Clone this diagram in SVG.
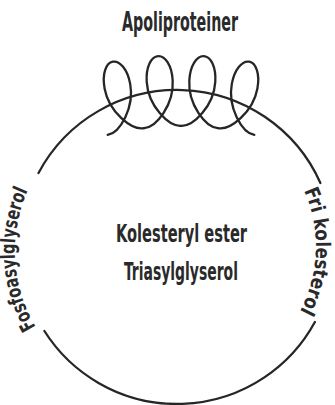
<svg xmlns="http://www.w3.org/2000/svg" xmlns:xlink="http://www.w3.org/1999/xlink" width="335" height="405" viewBox="0 0 335 405">
<style>
.ln{fill:none;stroke:#262626;stroke-width:2.3;stroke-linecap:round;stroke-linejoin:round}
.t{font-family:"Liberation Sans Narrow","DejaVu Sans Condensed","Liberation Sans",sans-serif;font-stretch:condensed;fill:#2a2a2a;font-weight:bold}
</style>
<defs>
<path id="loop" d="M -18.5,0 C -6,0 13,-22 13,-46 C 13,-61 7,-71 0,-71 C -7,-71 -13,-61 -13,-46 C -13,-22 6,0 18.5,0"/>
<path id="pL" d="M 35.7,327.0 A 149 149 0 0 1 29.6,186.5"/>
<path id="pR" d="M 304.0,190.5 A 138 138 0 0 1 297.6,315.5"/>
</defs>
<rect width="335" height="405" fill="#ffffff"/>
<g id="membrane">
<path class="ln" d="M 38.5,173 A 157 157 0 0 1 320.4,183"/>
<path class="ln" d="M 314.9,322 A 157 157 0 0 1 44.4,331"/>
</g>
<g id="apoprotein">
<use xlink:href="#loop" class="ln" transform="rotate(-10.59 181 426.4) translate(181 126.4)"/>
<use xlink:href="#loop" class="ln" transform="rotate(-3.53 181 426.4) translate(181 126.4)"/>
<use xlink:href="#loop" class="ln" transform="rotate(3.53 181 426.4) translate(181 126.4)"/>
<use xlink:href="#loop" class="ln" transform="rotate(10.59 181 426.4) translate(181 126.4)"/>
<text class="t" x="122" y="31" font-size="26" textLength="116" lengthAdjust="spacingAndGlyphs">Apoliproteiner</text>
</g>
<g id="core">
<text class="t" x="116" y="242" font-size="25" textLength="131" lengthAdjust="spacingAndGlyphs">Kolesteryl ester</text>
<text class="t" x="124" y="280" font-size="25" textLength="114" lengthAdjust="spacingAndGlyphs">Triasylglyserol</text>
</g>
<g id="fosfo">
<text class="t" font-size="20"><textPath xlink:href="#pL" textLength="142" lengthAdjust="spacingAndGlyphs">Fosfoasylglyserol</textPath></text>
</g>
<g id="frikol">
<text class="t" font-size="20"><textPath xlink:href="#pR" textLength="125" lengthAdjust="spacingAndGlyphs">Fri kolesterol</textPath></text>
</g>
</svg>
